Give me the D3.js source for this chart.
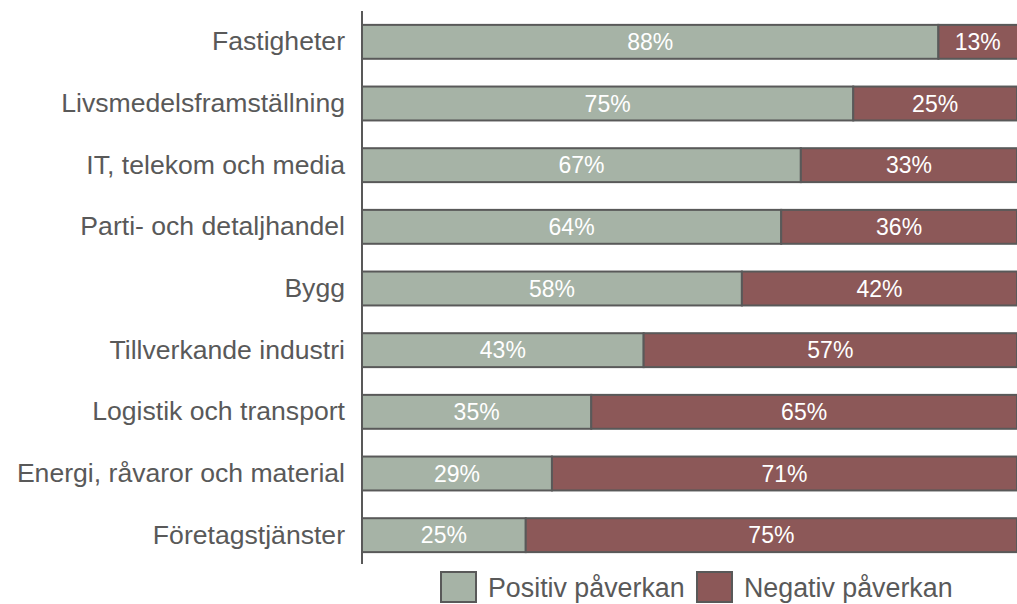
<!DOCTYPE html>
<html>
<head>
<meta charset="utf-8">
<script src="https://cdn.jsdelivr.net/npm/d3@7"></script>
<style>
  body { margin: 0; background: #fff; }
  svg { display: block; font-family: "Liberation Sans", Arial, sans-serif; }
</style>
</head>
<body>
<svg id="chart" width="1017" height="604"></svg>
<script>
const categories = ["Fastigheter", "Livsmedelsframställning", "IT, telekom och media",
  "Parti- och detaljhandel", "Bygg", "Tillverkande industri", "Logistik och transport",
  "Energi, råvaror och material", "Företagstjänster"];
const positive = [88, 75, 67, 64, 58, 43, 35, 29, 25];
const negative = [13, 25, 33, 36, 42, 57, 65, 71, 75];
const seriesNames = ["Positiv påverkan", "Negativ påverkan"];
const colors = ["#a6b3a6", "#8c5858"];

const svg = d3.select('#chart');
const x0 = 362, x1 = 1017, yTop = 11, yBottom = 566;

const x = d3.scaleLinear().domain([0, 100]).range([x0, x1]);
const y = d3.scaleBand().domain(categories).range([yTop, yBottom]).paddingInner(0.45).paddingOuter(0.225);

const rows = categories.map((c, i) => ({ cat: c, vals: [positive[i], negative[i]] }));

const g = svg.append('g');
rows.forEach(r => {
    let start = 0;
    r.vals.forEach((v, k) => {
        g.append('rect')
            .attr('x', x(start))
            .attr('y', y(r.cat))
            .attr('width', x(start + v) - x(start))
            .attr('height', y.bandwidth())
            .attr('fill', colors[k])
            .attr('stroke', '#595959')
            .attr('stroke-width', 2);
        g.append('text')
            .attr('x', (x(start) + Math.min(x(start + v), x1)) / 2)
            .attr('y', y(r.cat) + y.bandwidth() / 2)
            .attr('dy', '0.36em')
            .attr('text-anchor', 'middle')
            .attr('fill', '#fff')
            .attr('font-size', 23)
            .text(v + '%');
        start += v;
    });
});

// category axis
const yAxis = svg.append('g')
    .attr('transform', `translate(${x0},0)`)
    .call(d3.axisLeft(y).tickSize(0).tickPadding(17));
yAxis.select('.domain').remove();
yAxis.selectAll('text').attr('font-size', 26.6).attr('fill', '#595959')
    .attr('font-family', '"Liberation Sans", Arial, sans-serif');
svg.append('line')
    .attr('x1', x0).attr('x2', x0).attr('y1', yTop).attr('y2', yBottom - 2)
    .attr('stroke', '#595959').attr('stroke-width', 2);

// legend
const legendX = [441, 697];
seriesNames.forEach((name, k) => {
    svg.append('rect')
        .attr('x', legendX[k]).attr('y', 572)
        .attr('width', 35).attr('height', 30)
        .attr('fill', colors[k]).attr('stroke', '#595959').attr('stroke-width', 2);
    svg.append('text')
        .attr('x', legendX[k] + 47).attr('y', 587)
        .attr('dy', '0.36em')
        .attr('font-size', 26.8).attr('fill', '#595959')
        .text(name);
});
</script>
</body>
</html>
